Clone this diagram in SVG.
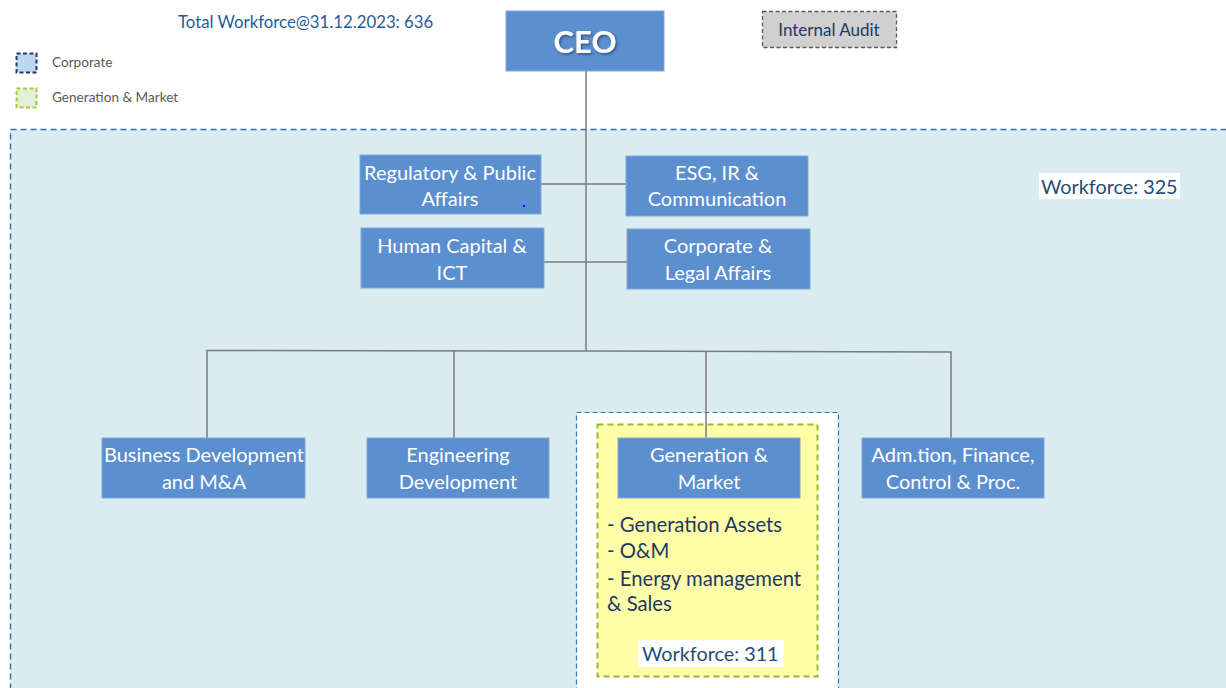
<svg xmlns="http://www.w3.org/2000/svg" width="1226" height="688" viewBox="0 0 1226 688">
  <defs>
    <filter id="shadow" x="-20%" y="-20%" width="140%" height="140%">
      <feDropShadow dx="1.5" dy="1.5" stdDeviation="1" flood-color="#1f2f4f" flood-opacity="0.6"/>
    </filter>
  </defs>
  <style>
    .box { fill: #5b8fcf; stroke: #7fa8dc; stroke-width: 1; }
    .boxtxt { font-family: Lato, "Liberation Sans", sans-serif; font-size: 20px; fill: #ffffff; text-anchor: middle; }
    .link { stroke: #7a7a7a; stroke-width: 1.5; fill: none; }
    .navy { font-family: Lato, "Liberation Sans", sans-serif; fill: #1f3864; }
    .wf { font-family: Lato, "Liberation Sans", sans-serif; font-size: 19.8px; fill: #1f4e79; }
    .legend { font-family: Lato, "Liberation Sans", sans-serif; font-size: 13.6px; fill: #595959; }
  </style>

  <rect width="1226" height="688" fill="#ffffff"/>

  <!-- corporate area -->
  <g id="corporate-area">
    <rect x="10.5" y="129.5" width="1230" height="570" fill="#daecef" stroke="#2e75b6" stroke-width="1.5" stroke-dasharray="6 4"/>
    <rect x="1039" y="173" width="141" height="26" fill="#ffffff"/>
    <text class="wf" x="1041" y="194">Workforce: 325</text>
  </g>

  <!-- header and legend -->
  <g id="header">
    <text x="178" y="28" font-family="Lato, 'Liberation Sans', sans-serif" font-size="16.8px" fill="#1f5c99">Total Workforce@31.12.2023: 636</text>
  </g>
  <g id="legend">
    <rect x="16.5" y="53.5" width="20" height="19" fill="#bdd7ee" stroke="#1f3864" stroke-width="2" stroke-dasharray="4 2.5"/>
    <text class="legend" x="52" y="67">Corporate</text>
    <rect x="16.5" y="88.5" width="20" height="19" fill="#e2efd9" stroke="#a9c93a" stroke-width="2" stroke-dasharray="4 2.5"/>
    <text class="legend" x="52" y="102">Generation &amp; Market</text>
  </g>

  <!-- generation & market area -->
  <g id="gm-area">
    <rect x="576.5" y="412.5" width="262" height="290" fill="#ffffff" stroke="#2e75b6" stroke-width="1.2" stroke-dasharray="5 3"/>
    <rect x="597.5" y="424.5" width="220" height="252" fill="#fefea8" stroke="#9bbb26" stroke-width="2" stroke-dasharray="6 4"/>
  </g>

  <!-- connectors -->
  <g id="connectors">
    <line class="link" x1="586" y1="71" x2="586" y2="351"/>
    <line class="link" x1="541" y1="184" x2="626" y2="184"/>
    <line class="link" x1="544" y1="262" x2="627" y2="262"/>
    <polyline class="link" points="207,438 207,350.5 586,351 951,352 951,438"/>
    <line class="link" x1="454" y1="351" x2="454" y2="438"/>
    <line class="link" x1="706" y1="351.5" x2="706" y2="438"/>
  </g>

  <g id="ceo">
    <rect class="box" x="506" y="11" width="158" height="60"/>
    <text x="585" y="53" font-family="Lato, 'Liberation Sans', sans-serif" font-size="31px" font-weight="bold" fill="#ffffff" text-anchor="middle" filter="url(#shadow)">CEO</text>
  </g>

  <g id="internal-audit">
    <rect x="762.5" y="11.5" width="134" height="36" fill="#d0d0d0" stroke="#5a5a5a" stroke-width="1.3" stroke-dasharray="4 2.5"/>
    <text class="navy" x="829" y="36" font-size="17px" text-anchor="middle">Internal Audit</text>
  </g>

  <g id="regulatory">
    <rect class="box" x="360" y="155" width="181" height="59"/>
    <text class="boxtxt" x="450" y="180">Regulatory &amp; Public</text>
    <text class="boxtxt" x="450" y="206">Affairs</text>
    <rect x="523" y="205" width="2" height="2" fill="#1010e0"/>
  </g>

  <g id="esg">
    <rect class="box" x="626" y="156" width="182" height="60"/>
    <text class="boxtxt" x="717" y="180">ESG, IR &amp;</text>
    <text class="boxtxt" x="717" y="206">Communication</text>
  </g>

  <g id="human-capital">
    <rect class="box" x="361" y="228" width="183" height="60"/>
    <text class="boxtxt" x="452" y="253">Human Capital &amp;</text>
    <text class="boxtxt" x="452" y="280">ICT</text>
  </g>

  <g id="corporate-legal">
    <rect class="box" x="627" y="229" width="183" height="60"/>
    <text class="boxtxt" x="718" y="253">Corporate &amp;</text>
    <text class="boxtxt" x="718" y="280">Legal Affairs</text>
  </g>

  <g id="business-development">
    <rect class="box" x="102" y="438" width="203" height="60"/>
    <text class="boxtxt" x="204" y="462" textLength="200" lengthAdjust="spacingAndGlyphs">Business Development</text>
    <text class="boxtxt" x="204" y="489">and M&amp;A</text>
  </g>

  <g id="engineering-development">
    <rect class="box" x="367" y="438" width="182" height="60"/>
    <text class="boxtxt" x="458" y="462">Engineering</text>
    <text class="boxtxt" x="458" y="489">Development</text>
  </g>

  <g id="generation-market">
    <rect class="box" x="618" y="438" width="182" height="60"/>
    <text class="boxtxt" x="709" y="462">Generation &amp;</text>
    <text class="boxtxt" x="709" y="489">Market</text>
    <text class="navy" font-size="20.3px" x="607" y="532">- Generation Assets</text>
    <text class="navy" font-size="20.3px" x="607" y="558">- O&amp;M</text>
    <text class="navy" font-size="20.3px" x="607" y="586">- Energy management</text>
    <text class="navy" font-size="20.3px" x="607" y="611">&amp; Sales</text>
    <rect x="638" y="640" width="146" height="27" fill="#ffffff"/>
    <text class="wf" x="642" y="661">Workforce: 311</text>
  </g>

  <g id="administration-finance">
    <rect class="box" x="862" y="438" width="182" height="60"/>
    <text class="boxtxt" x="953" y="462">Adm.tion, Finance,</text>
    <text class="boxtxt" x="953" y="489">Control &amp; Proc.</text>
  </g>
</svg>
